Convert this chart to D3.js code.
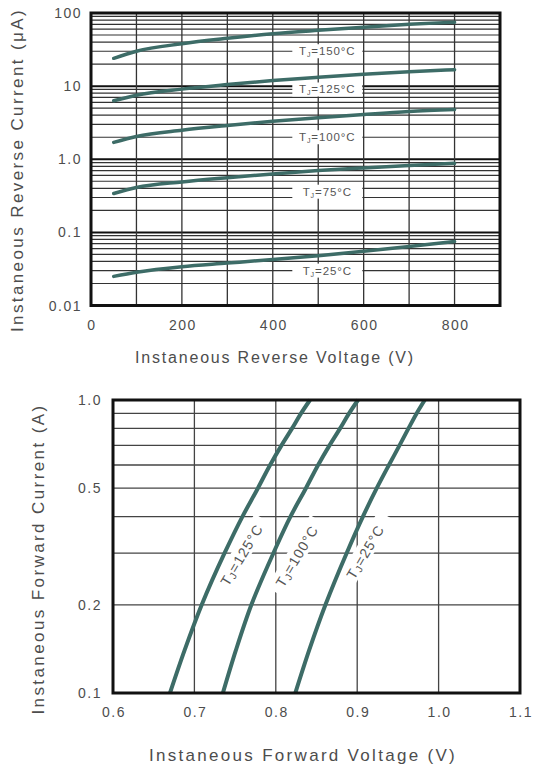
<!DOCTYPE html>
<html>
<head>
<meta charset="utf-8">
<script src="https://cdn.jsdelivr.net/npm/d3@7"></script>
<style>
  html, body { margin: 0; padding: 0; background: #fff; }
  svg { display: block; font-family: "Liberation Sans", Arial, sans-serif; }
  .tick-lbl { fill: #4d4d4d; font-size: 14px; letter-spacing: 1.5px; }
  .title { fill: #4d4d4d; }
  .curve-lbl { fill: #555; }
</style>
</head>
<body>
<svg id="chart" width="533" height="768"></svg>
<script>
// top chart: reverse current (uA) vs reverse voltage (V)
const revVoltage = [50, 100, 200, 300, 400, 500, 600, 700, 800];
const rev150 = [24, 30, 38, 45, 52, 58, 64, 70, 75];
const rev125 = [6.3, 7.5, 9.1, 10.5, 11.9, 13.2, 14.5, 15.7, 16.8];
const rev100 = [1.7, 2.05, 2.5, 2.9, 3.3, 3.7, 4.1, 4.5, 4.8];
const rev75 = [0.34, 0.41, 0.49, 0.56, 0.63, 0.70, 0.76, 0.82, 0.88];
const rev25 = [0.025, 0.0285, 0.034, 0.038, 0.0425, 0.048, 0.055, 0.064, 0.075];
const revSeries = [
  { label: '150', values: rev150, labelAt: 30 },
  { label: '125', values: rev125, labelAt: 9 },
  { label: '100', values: rev100, labelAt: 2 },
  { label: '75', values: rev75, labelAt: 0.36 },
  { label: '25', values: rev25, labelAt: 0.03 },
];
const revXTicks = [0, 200, 400, 600, 800];
const revYTicks = [0.01, 0.1, 1, 10, 100];
const revYTickLabels = ['0.01', '0.1', '1.0', '10', '100'];

// bottom chart: forward voltage (V) at each forward current (A)
const fwdCurrent = [0.1, 0.14, 0.2, 0.3, 0.4, 0.5, 0.6, 0.7, 0.8, 0.9, 1.0];
const fwd125 = [0.670, 0.688, 0.709, 0.737, 0.759, 0.778, 0.793, 0.807, 0.820, 0.831, 0.842];
const fwd100 = [0.735, 0.751, 0.770, 0.797, 0.818, 0.837, 0.852, 0.866, 0.879, 0.890, 0.901];
const fwd25 = [0.824, 0.841, 0.861, 0.887, 0.907, 0.924, 0.939, 0.952, 0.963, 0.973, 0.983];
const fwdSeries = [
  { label: '125', values: fwd125, labelV: 0.758, labelI: 0.296 },
  { label: '100', values: fwd100, labelV: 0.826, labelI: 0.293 },
  { label: '25', values: fwd25, labelV: 0.910, labelI: 0.303 },
];
const fwdXTicks = [0.6, 0.7, 0.8, 0.9, 1.0, 1.1];
const fwdYTicks = [0.1, 0.2, 0.5, 1.0];

const CURVE = '#3d6c67';
const svg = d3.select('#chart');

function tjLabel(sel, label, sub) {
  sel.append('tspan').text('T');
  sel.append('tspan').attr('font-size', sub).attr('dy', 2).text('J');
  sel.append('tspan').attr('dy', -2).text('=' + label + '°C');
}

// ---------- top chart ----------
{
  const m = { left: 91, top: 13, w: 409, h: 292.5 };
  const x = d3.scaleLinear().domain([0, 900]).range([m.left, m.left + m.w]);
  const y = d3.scaleLog().domain([0.01, 100]).range([m.top + m.h, m.top]);
  const g = svg.append('g');

  // minor log grid
  const minors = [];
  for (let d = 0.01; d < 100; d *= 10)
    for (let k = 2; k <= 9; k++) minors.push(+(d * k).toPrecision(3));
  g.selectAll('.hmin').data(minors).join('line')
    .attr('x1', x(0)).attr('x2', x(900))
    .attr('y1', d => y(d)).attr('y2', d => y(d))
    .attr('stroke', '#333').attr('stroke-width', 1.2);
  g.selectAll('.hmaj').data([0.1, 1, 10]).join('line')
    .attr('x1', x(0)).attr('x2', x(900))
    .attr('y1', d => y(d)).attr('y2', d => y(d))
    .attr('stroke', '#111').attr('stroke-width', 2);
  g.selectAll('.vgrid').data(d3.range(100, 900, 100)).join('line')
    .attr('x1', d => x(d)).attr('x2', d => x(d))
    .attr('y1', y(100)).attr('y2', y(0.01))
    .attr('stroke', '#333').attr('stroke-width', 1.3);

  // curve labels on white boxes
  const lblX = 520;
  revSeries.forEach(s => {
    const cy = y(s.labelAt);
    g.append('rect').attr('x', x(lblX) - 35).attr('y', cy - 7)
      .attr('width', 70).attr('height', 14).attr('fill', '#fff');
    const t = g.append('text').attr('class', 'curve-lbl')
      .attr('font-size', 11.5).attr('letter-spacing', 0.9)
      .attr('x', x(lblX)).attr('y', cy + 4).attr('text-anchor', 'middle');
    tjLabel(t, s.label, 7);
  });

  const line = d3.line().x((d, i) => x(revVoltage[i])).y(d => y(d)).curve(d3.curveMonotoneX);
  g.selectAll('.rc').data(revSeries).join('path')
    .attr('d', s => line(s.values)).attr('fill', 'none')
    .attr('stroke', CURVE).attr('stroke-width', 3.5).attr('stroke-linecap', 'round');

  g.append('rect').attr('x', m.left).attr('y', m.top).attr('width', m.w).attr('height', m.h)
    .attr('fill', 'none').attr('stroke', '#111').attr('stroke-width', 3);

  g.selectAll('.yt').data(revYTicks).join('text').attr('class', 'tick-lbl')
    .attr('x', 82).attr('y', d => y(d) + 5).attr('text-anchor', 'end')
    .text((d, i) => revYTickLabels[i]);
  g.selectAll('.xt').data(revXTicks).join('text').attr('class', 'tick-lbl')
    .attr('x', d => x(d) + 1).attr('y', 330).attr('text-anchor', 'middle')
    .text(d => d);

  g.append('text').attr('class', 'title')
    .attr('x', 275).attr('y', 363).attr('text-anchor', 'middle')
    .attr('font-size', 16).attr('letter-spacing', 1.8)
    .text('Instaneous Reverse Voltage (V)');
  g.append('text').attr('class', 'title')
    .attr('transform', 'translate(23,170) rotate(-90)').attr('text-anchor', 'middle')
    .attr('font-size', 17).attr('letter-spacing', 2.4)
    .text('Instaneous Reverse Current (μA)');
}

// ---------- bottom chart ----------
{
  const m = { left: 113, top: 400, w: 407, h: 293 };
  const x = d3.scaleLinear().domain([0.6, 1.1]).range([m.left, m.left + m.w]);
  const y = d3.scaleLog().domain([0.1, 1]).range([m.top + m.h, m.top]);
  const g = svg.append('g');

  g.selectAll('.hgrid').data([0.2, 0.3, 0.4, 0.5, 0.6, 0.7, 0.8, 0.9]).join('line')
    .attr('x1', x(0.6)).attr('x2', x(1.1))
    .attr('y1', d => y(d)).attr('y2', d => y(d))
    .attr('stroke', '#444').attr('stroke-width', 1.3);
  g.selectAll('.vgrid').data([0.7, 0.8, 0.9, 1.0]).join('line')
    .attr('x1', d => x(d)).attr('x2', d => x(d))
    .attr('y1', y(1)).attr('y2', y(0.1))
    .attr('stroke', '#444').attr('stroke-width', 1.3);

  // rotated label backgrounds
  fwdSeries.forEach(s => {
    g.append('rect')
      .attr('transform', `translate(${x(s.labelV)},${y(s.labelI)}) rotate(-59)`)
      .attr('x', -42).attr('y', -10).attr('width', 84).attr('height', 18)
      .attr('fill', '#fff');
  });

  const line = d3.line().x(d => x(d)).y((d, i) => y(fwdCurrent[i])).curve(d3.curveMonotoneY);
  g.selectAll('.fc').data(fwdSeries).join('path')
    .attr('d', s => line(s.values)).attr('fill', 'none')
    .attr('stroke', CURVE).attr('stroke-width', 4);

  fwdSeries.forEach(s => {
    const t = g.append('text').attr('class', 'curve-lbl')
      .attr('fill', '#3a3a3a').attr('font-size', 14).attr('letter-spacing', 1)
      .attr('transform', `translate(${x(s.labelV)},${y(s.labelI)}) rotate(-59)`)
      .attr('y', 5).attr('text-anchor', 'middle');
    tjLabel(t, s.label, 10);
  });

  g.append('rect').attr('x', m.left).attr('y', m.top).attr('width', m.w).attr('height', m.h)
    .attr('fill', 'none').attr('stroke', '#111').attr('stroke-width', 3);

  g.selectAll('.yt').data(fwdYTicks).join('text').attr('class', 'tick-lbl')
    .attr('x', 102).attr('y', d => y(d) + 5).attr('text-anchor', 'end')
    .text(d => d.toFixed(1));
  g.selectAll('.xt').data(fwdXTicks).join('text').attr('class', 'tick-lbl')
    .attr('x', d => x(d) + 1).attr('y', 717).attr('text-anchor', 'middle')
    .text(d => d.toFixed(1));

  g.append('text').attr('class', 'title')
    .attr('x', 303).attr('y', 761).attr('text-anchor', 'middle')
    .attr('font-size', 17).attr('letter-spacing', 2.3)
    .text('Instaneous Forward Voltage (V)');
  g.append('text').attr('class', 'title')
    .attr('transform', 'translate(44,559) rotate(-90)').attr('text-anchor', 'middle')
    .attr('font-size', 17).attr('letter-spacing', 2.4)
    .text('Instaneous Forward Current (A)');
}
</script>
</body>
</html>
